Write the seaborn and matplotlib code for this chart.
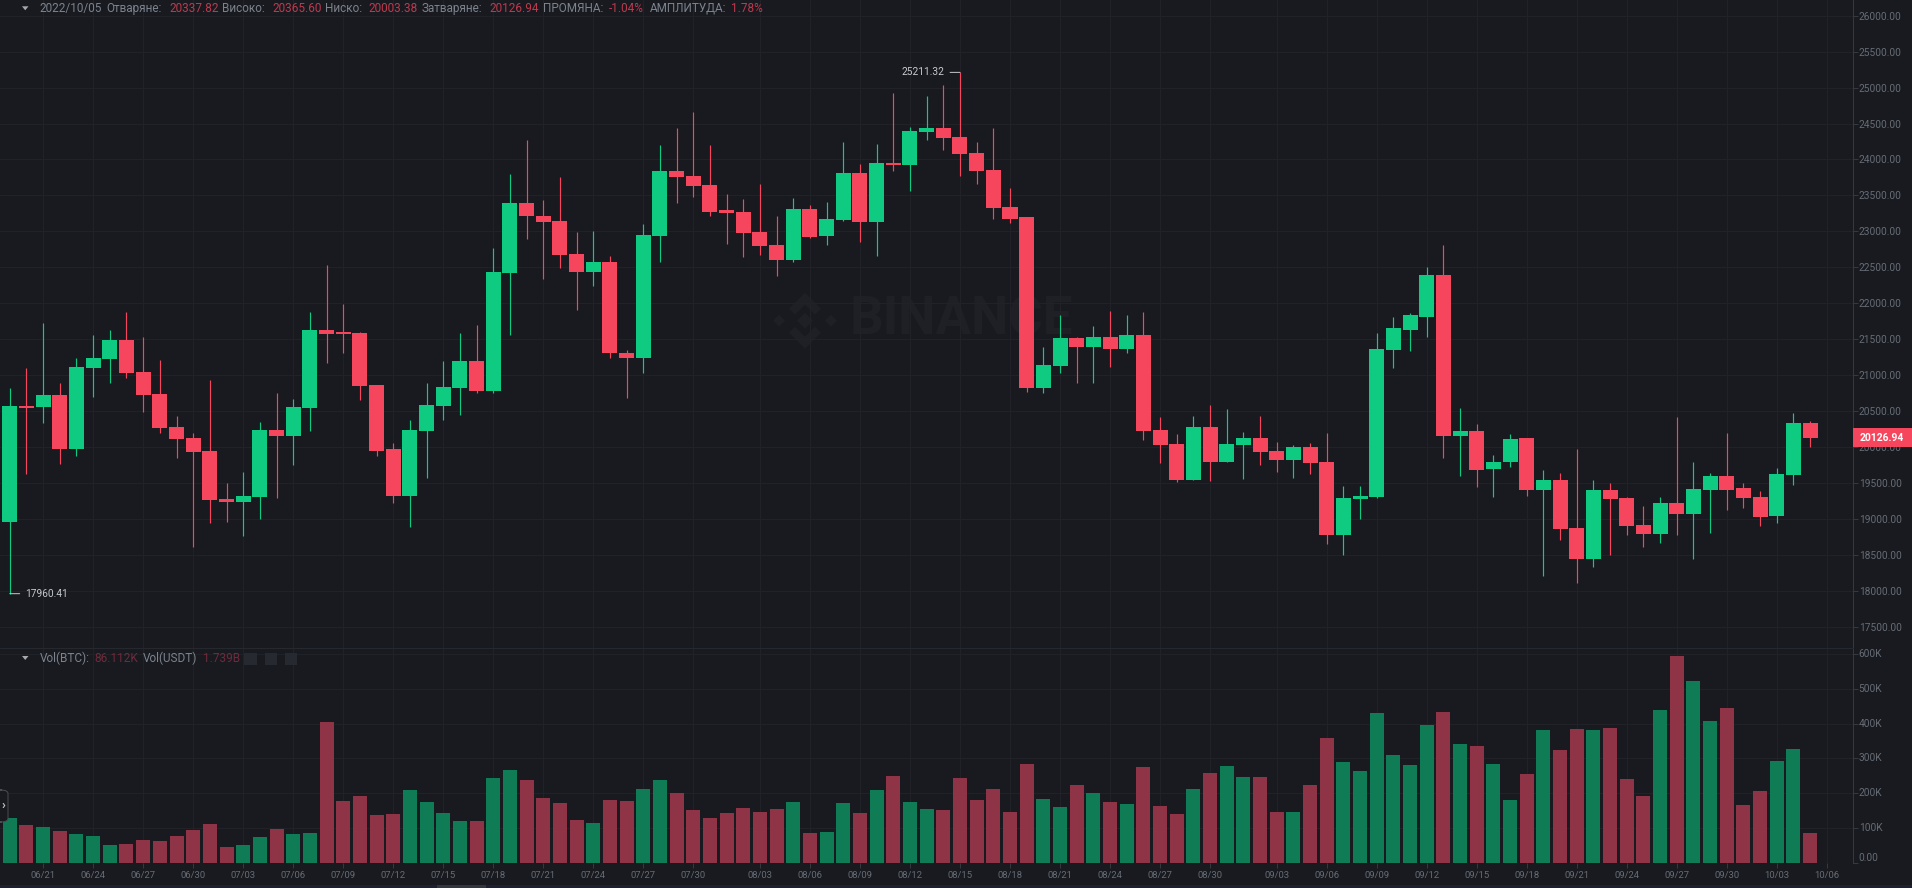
import matplotlib
matplotlib.use("Agg")
import matplotlib.pyplot as plt
from matplotlib.lines import Line2D
from matplotlib.patches import Rectangle, FancyBboxPatch, Polygon
import numpy as np
import pandas as pd
import seaborn as sns

opens = [18958,20574,20562,20724,19973,21100,21225,21489,21039,20742,20283,20126,19940,19282,19236,19301,20237,20158,20548,21628,
         21595,21591,20863,19968,19319,20223,20571,20817,21197,20780,22417,23399,23218,23149,22681,22440,22579,21313,21243,22940,
         23840,23770,23645,23297,23265,22987,22811,22602,23311,22936,23158,23807,23135,23956,23923,24387,24438,24308,24085,23854,
         23339,23195,20817,21127,21512,21387,21526,21359,21558,20237,20038,19542,20283,19797,20032,20130,19945,19820,20005,19797,
         18777,19273,19310,21350,21628,21814,22393,20158,20228,19690,19787,20121,19403,19537,18874,18443,19403,19296,18921,18795,
         19226,19064,19403,19597,19426,19310,19041,19611,20337.82]
highs = [20817,21095,21730,20895,21234,21558,21628,21874,21535,21211,20432,20191,20933,19495,19648,20353,20756,20668,21874,22532,
         21990,21600,20863,20061,20376,20895,21201,21591,21697,22764,23798,24271,23436,23761,22987,23010,22658,21350,23103,24201,
         24433,24656,24201,23515,23450,23654,23214,23469,23367,23404,24248,23937,24215,24920,24447,24883,25036,25211.32,24243,24433,
         23599,23195,21387,21837,21535,21684,21897,21837,21883,20423,20181,20432,20585,20525,20205,20432,20075,20029,20052,20200,
         19458,19458,21591,21814,21860,22509,22811,20538,20321,19889,20181,20121,19681,19634,19968,19537,19495,19310,19180,19310,
         20423,19787,19634,20200,19495,19393,19713,20469,20365.60]
lows = [17960.41,19620,20330,19764,19880,20701,20886,20956,20492,20191,19843,18614,18948,18962,18763,19004,19287,19746,20228,21164,
        21303,20654,19875,19217,18893,19565,20376,20446,20747,20756,21558,22889,22333,22486,21907,22240,21234,20678,21025,22569,
        23399,23483,23214,22820,22648,22671,22384,22569,22903,22811,23144,22848,22662,23844,23566,24271,24132,23775,23664,23172,
        23112,20770,20747,21025,20886,20886,21118,21303,20098,19773,19509,19542,19532,19797,19551,19750,19648,19565,19625,18652,
        18499,18995,19287,21104,21336,21535,19852,19602,19449,19310,19727,19324,18211,18707,18105,18336,18499,18777,18614,18661,
        18777,18443,18800,19125,19148,18902,18939,19472,20003.38]
closes = [20571,20543,20724,19973,21109,21238,21489,21025,20729,20265,20107,19927,19264,19236,19319,20237,20158,20562,21628,21577,
          21568,20849,19950,19319,20237,20585,20831,21197,20780,22430,23390,23214,23135,22671,22440,22579,21303,21243,22950,23840,
          23761,23631,23274,23251,22973,22801,22602,23311,22926,23172,23807,23135,23946,23919,24401,24433,24294,24081,23840,23325,
          23172,20817,21141,21512,21387,21526,21359,21558,20228,20024,19542,20283,19797,20042,20130,19936,19820,20005,19783,18777,
          19296,19319,21359,21651,21837,22393,20158,20223,19681,19797,20112,19403,19537,18860,18443,19403,19273,18907,18791,19226,
          19064,19412,19597,19403,19287,19032,19630,20339,20126.94]
volumes = [127.5,108,103.5,92,82.5,77.7,51,53.7,65,63,77.7,94,111,46,52,75,96,82.5,84,404,
           178,193,137,140,209,174.5,144,121,119,242,265,239,185,172,122,115,180,178,211,237,
           199,151.5,127.5,144,157,146,154,174.5,84,88,172,144,209,249,173.5,153,151.5,243.5,179,211,
           145,285,184,159,222,200,174.5,170,274,162,139,211,257,278,245,246,147,147,223,357,
           288,264,429.5,309,281,395,433,341,334,284,179,254,382,324,385,380,386,241,192,440,
           594,522.5,406.5,446,166,207,293,328,86]
date_labels = ["06/21","06/24","06/27","06/30","07/03","07/06","07/09","07/12","07/15","07/18","07/21","07/24","07/27","07/30",
               "08/03","08/06","08/09","08/12","08/15","08/18","08/21","08/24","08/27","08/30",
               "09/03","09/06","09/09","09/12","09/15","09/18","09/21","09/24","09/27","09/30","10/03","10/06"]
price_ticks = [17500,18000,18500,19000,19500,20000,20500,21000,21500,22000,22500,23000,23500,24000,24500,25000,25500,26000]
vol_ticks = [0,100,200,300,400,500,600]
vol_tick_labels = ["0.00","100K","200K","300K","400K","500K","600K"]

BG = "#181a20"; GRID = "#212329"; AXIS = "#363a41"
UP = "#0ecb81"; DOWN = "#f6465d"
VUP = "#107c56"; VDOWN = "#8f3346"
LABEL = "#7c838d"; TICK = "#666c75"; HDR_RED = "#bd3a4e"; DIM_RED = "#6f2b3b"
FONT = "Roboto"

sns.set_theme(style="dark", rc={"figure.facecolor": BG, "axes.facecolor": "none", "font.family": FONT})
plt.rcParams["font.family"] = [FONT, "DejaVu Sans"]

W, H = 1912, 888
AX_R = 1853; SPLIT = 648; VOL0 = 862.7
fig = plt.figure(figsize=(W/100, H/100), dpi=100, facecolor=BG)

def fx(x): return x / W
def fy(y): return 1 - y / H

ax = fig.add_axes([0, fy(SPLIT), fx(AX_R), SPLIT / H])
axv = fig.add_axes([0, fy(VOL0), fx(AX_R), (VOL0 - SPLIT) / H], sharex=ax)

df = pd.DataFrame({"date": pd.date_range("2022-06-19", periods=len(opens)),
                   "open": opens, "high": highs, "low": lows, "close": closes, "vol": volumes})
df["idx"] = np.arange(len(df))
df["dir"] = np.where(df["close"] >= df["open"], "up", "down")
colors = df["dir"].map({"up": UP, "down": DOWN}).tolist()

# candles
ax.vlines(df["idx"], df["low"], df["high"], colors=colors, linewidth=0.85, zorder=3)
ax.bar(df["idx"], (df["close"] - df["open"]).abs().clip(lower=25), bottom=df[["open", "close"]].min(axis=1),
       width=0.9, color=colors, linewidth=0, zorder=4)

# volume
sns.barplot(data=df, x="idx", y="vol", hue="dir", palette={"up": VUP, "down": VDOWN}, dodge=False,
            native_scale=True, width=0.84, saturation=1, errorbar=None, legend=False, ax=axv, zorder=3, linewidth=0)

tick_pos = [(pd.Timestamp(f"2022-{d.replace('/', '-')}") - df["date"][0]).days for d in date_labels]
ax.set_xlim(-0.588, 110.57)
ax.set_ylim(17205, 26218)
axv.set_ylim(0, 617)

for a in (ax, axv):
    a.set_xlabel(""); a.set_ylabel("")
    for s in a.spines.values():
        s.set_visible(False)
    a.set_axisbelow(True)
    a.grid(True, color=GRID, linewidth=0.7)
    a.yaxis.tick_right()
    a.tick_params(axis="y", colors=AXIS, labelcolor=TICK, labelsize=7.3, length=3.6, width=0.7, pad=0.5, right=True, left=False)
    a.spines["right"].set_visible(True)
    a.spines["right"].set_color(AXIS)
    a.spines["right"].set_linewidth(0.7)

ax.set_xticks(tick_pos)
ax.tick_params(axis="x", bottom=False, labelbottom=False)
ax.set_yticks(price_ticks)
ax.set_yticklabels([f"{p:.2f}" for p in price_ticks])
axv.set_xticks(tick_pos)
axv.set_xticklabels(date_labels)
axv.tick_params(axis="x", bottom=True, colors=AXIS, labelcolor=TICK, labelsize=6.8, length=3.5, width=0.7, pad=2.5)
axv.set_yticks(vol_ticks)
axv.set_yticklabels(vol_tick_labels)
for lab in axv.get_yticklabels():
    lab.set_verticalalignment("center")
axv.get_yticklabels()[0].set_verticalalignment("bottom")

# high / low markers
hi = int(np.argmax(highs)); lo = int(np.argmin(lows))
ax.annotate(f"{highs[hi]:.2f}", xy=(hi, highs[hi]), xytext=(-11, 0), textcoords="offset points", ha="right", va="center",
            fontsize=7.3, color="#c6c9cd", zorder=6,
            arrowprops=dict(arrowstyle="-", color="#c6c9cd", lw=0.7, shrinkA=1.5, shrinkB=0, relpos=(1, 0.5)))
ax.annotate(f"{lows[lo]:.2f}", xy=(lo, lows[lo]), xytext=(11, 0), textcoords="offset points", ha="left", va="center",
            fontsize=7.3, color="#c6c9cd", zorder=6,
            arrowprops=dict(arrowstyle="-", color="#c6c9cd", lw=0.7, shrinkA=1.5, shrinkB=0, relpos=(0, 0.5)))

# last price tag
tr = ax.get_yaxis_transform()
tag_half = 9.5 / (SPLIT / (26218 - 17205))
ax.add_patch(Rectangle((1.0, closes[-1] - tag_half), (W - AX_R) / AX_R, 2 * tag_half, transform=tr,
                       facecolor=DOWN, edgecolor="none", clip_on=False, zorder=7))
ax.text(1 + (1882 - AX_R) / AX_R, closes[-1], f"{closes[-1]:.2f}", transform=tr, color="white", fontsize=7.4,
        fontweight="bold", ha="center", va="center", zorder=8)

# headers
def T(x, y, s, c, size=8.5, **k):
    fig.text(fx(x), fy(y), s, color=c, fontsize=size, ha="left", va="center", **k)

header = [(39.6, "2022/10/05", LABEL), (106, "Отваряне:", LABEL), (169, "20337.82", HDR_RED), (222, "Високо:", LABEL),
          (272, "20365.60", HDR_RED), (325, "Ниско:", LABEL), (368.6, "20003.38", HDR_RED), (421.6, "Затваряне:", LABEL),
          (489, "20126.94", HDR_RED), (543, "ПРОМЯНА:", LABEL), (609, "-1.04%", HDR_RED), (649.4, "АМПЛИТУДА:", LABEL),
          (731, "1.78%", HDR_RED)]
for x, s, c in header:
    T(x, 8.3, s, c)
vol_header = [(39.6, "Vol(BTC):", LABEL), (94.7, "86.112K", DIM_RED), (142.4, "Vol(USDT)", LABEL), (203, "1.739B", DIM_RED)]
for x, s, c in vol_header:
    T(x, 658, s, c)

def px_poly(pts, color, z=10):
    fig.add_artist(Polygon([(fx(x), fy(y)) for x, y in pts], closed=True, transform=fig.transFigure,
                           facecolor=color, edgecolor="none", zorder=z))

for yy in (8.3, 658):
    px_poly([(22, yy - 2), (28.5, yy - 2), (25.2, yy + 2)], "#a5a9af")
for x0 in (244, 264.5, 284.5):
    fig.add_artist(Rectangle((fx(x0), fy(665)), 12.5 / W, 12 / H, transform=fig.transFigure, facecolor="#26292f", edgecolor="none", zorder=10))

# separator, bottom band, left handle
fig.add_artist(Line2D([0, fx(AX_R)], [fy(SPLIT), fy(SPLIT)], color="#25282e", lw=0.8, zorder=1))
fig.add_artist(Rectangle((0, 0), 1, 3.5 / H, transform=fig.transFigure, facecolor="#1e2032", edgecolor="none", zorder=10))
fig.add_artist(Rectangle((fx(437), 0), 49 / W, 3.5 / H, transform=fig.transFigure, facecolor="#33353f", edgecolor="none", zorder=11))
fig.add_artist(FancyBboxPatch((fx(-6), fy(822)), 14 / W, 32 / H, boxstyle="round,pad=0,rounding_size=0.004",
                              transform=fig.transFigure, facecolor=BG, edgecolor="#4a4d53", lw=0.7, zorder=12))
fig.text(fx(3), fy(805), "›", color="#c0c3c8", fontsize=9, fontweight="bold", ha="center", va="center", zorder=13)

# watermark
WM = "#1e2026"
fig.text(fx(850), fy(320), "BINANCE", color=WM, fontsize=38, fontweight="bold", ha="left", va="center", zorder=-1)
cx, cy = 805, 320.7
def diamond(x, y, r):
    px_poly([(x - r, y), (x, y - r), (x + r, y), (x, y + r)], WM, z=-1)
diamond(cx, cy, 8); diamond(cx - 26, cy, 6); diamond(cx + 26, cy, 6)
px_poly([(cx, cy - 28), (cx + 16, cy - 12), (cx + 10, cy - 6), (cx, cy - 16), (cx - 10, cy - 6), (cx - 16, cy - 12)], WM, z=-1)
px_poly([(cx, cy + 28), (cx + 16, cy + 12), (cx + 10, cy + 6), (cx, cy + 16), (cx - 10, cy + 6), (cx - 16, cy + 12)], WM, z=-1)

fig.savefig("out.png", dpi=100, facecolor=BG)
